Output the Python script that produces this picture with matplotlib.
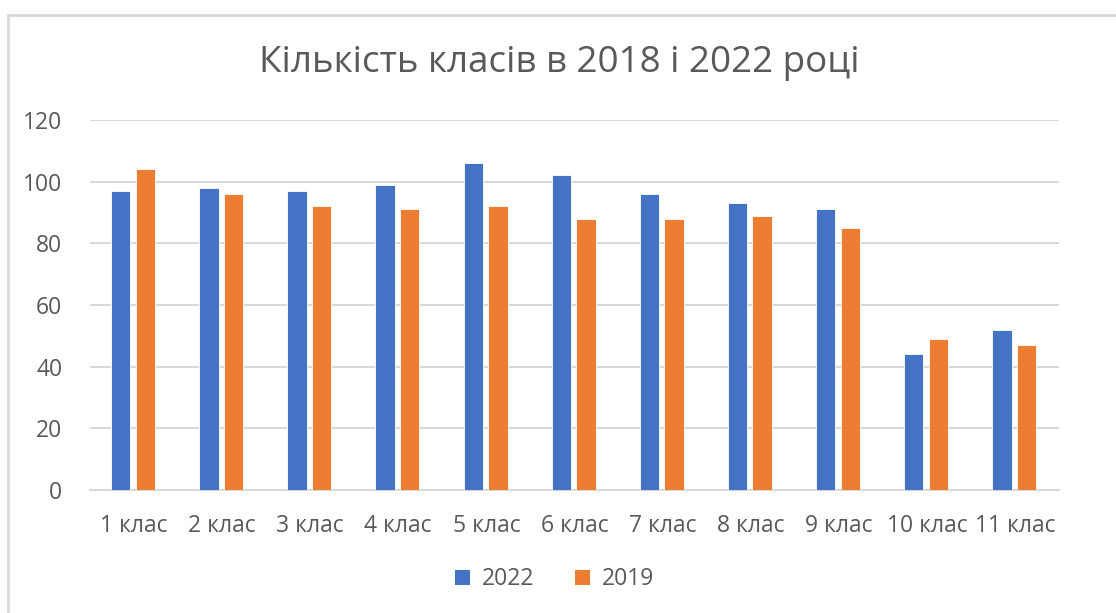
import matplotlib.pyplot as plt
from matplotlib.patches import Rectangle, Patch
import numpy as np

plt.rcParams['font.family'] = ['Open Sans', 'DejaVu Sans']

klasy = ["1 клас", "2 клас", "3 клас", "4 клас", "5 клас", "6 клас",
         "7 клас", "8 клас", "9 клас", "10 клас", "11 клас"]
roky = ["2022", "2019"]
dani2022 = [97, 98, 97, 99, 106, 102, 96, 93, 91, 44, 52]
dani2019 = [104, 96, 92, 91, 92, 88, 88, 89, 85, 49, 47]
yTicks = [0, 20, 40, 60, 80, 100, 120]

siryi = "#595959"
kolory = ["#4472C4", "#ED7D31"]

fig = plt.figure(figsize=(11.16, 6.13), dpi=100)
ax = fig.add_axes([0.0806, 0.2007, 0.8684, 0.6036])

# ramka diagramy (obrizana sprava i znyzu)
fig.patches.append(Rectangle((8 / 1116, -0.1), 1.2, 1.1 - 15 / 613,
                             transform=fig.transFigure, fill=False,
                             edgecolor="#d9d9d9", linewidth=2))

x = np.arange(len(klasy))
w = 0.22
ax.bar(x - 0.15, dani2022, width=w, color=kolory[0], edgecolor="white", linewidth=0.6, zorder=3)
ax.bar(x + 0.13, dani2019, width=w, color=kolory[1], edgecolor="white", linewidth=0.6, zorder=3)

ax.set_xlim(-0.5, len(klasy) - 0.5)
ax.set_ylim(0, 120)
ax.set_yticks(yTicks)
ax.set_xticks(x, klasy)
ax.grid(axis="y", color="#d9d9d9", linewidth=1.5, zorder=0)
for s in ["top", "right", "left"]:
    ax.spines[s].set_visible(False)
ax.spines["bottom"].set_color("#d9d9d9")
ax.spines["bottom"].set_linewidth(1.5)
ax.tick_params(length=0, labelsize=16.5, labelcolor=siryi)
ax.tick_params(axis="y", pad=20)
ax.tick_params(axis="x", pad=17)

fig.text(0.501, 0.897, "Кількість класів в 2018 і 2022 році", ha="center", va="center",
         fontsize=26.5, color=siryi)

legendy = [Patch(facecolor=kolory[0], label=roky[0]),
           Patch(facecolor=kolory[1], label=roky[1])]
fig.legend(handles=legendy, loc="center", bbox_to_anchor=(0.497, 0.055), ncol=2,
           frameon=False, fontsize=16.5, labelcolor=siryi, handlelength=0.65,
           handleheight=0.65, handletextpad=0.5, columnspacing=1.8)

plt.savefig("out.png", dpi=100)
